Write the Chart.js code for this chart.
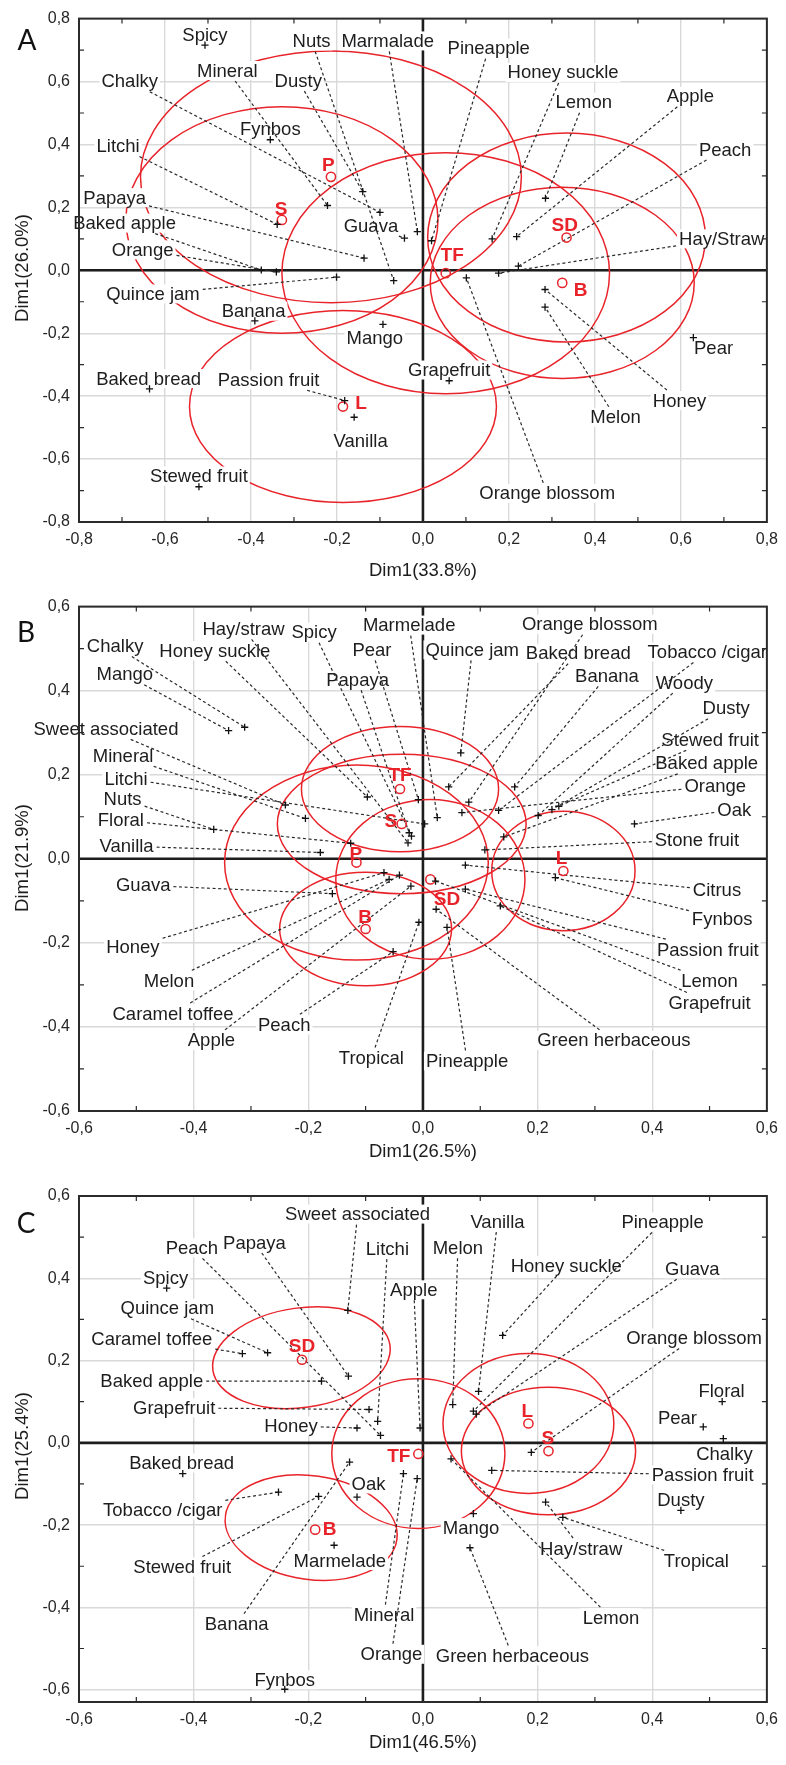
<!DOCTYPE html>
<html>
<head>
<meta charset="utf-8">
<script src="https://cdn.jsdelivr.net/npm/chart.js@4.4.1/dist/chart.umd.min.js"></script>
<style>
  html, body { margin: 0; padding: 0; background: #fff; }
  #wrap { position: relative; width: 786px; height: 1765px; overflow: hidden; }
  canvas { position: absolute; left: 0; }
</style>
</head>
<body>
<div id="wrap">
  <canvas id="panelA" width="786" height="588" style="top:0px"></canvas>
  <canvas id="panelB" width="786" height="588" style="top:588px"></canvas>
  <canvas id="panelC" width="786" height="589" style="top:1176px"></canvas>
</div>
<script>
// ---------- Panel A ----------
const aNames = ['Spicy','Fynbos','Chalky','Mineral','Dusty','Nuts','Marmalade','Pineapple','Honey suckle','Lemon','Apple','Peach','Hay/Straw','Orange blossom','Honey','Melon','Pear','Grapefruit','Mango','Banana','Baked bread','Passion fruit','Vanilla','Stewed fruit','Litchi','Papaya','Baked apple','Orange','Quince jam','Guava'];
const aX = [-0.507,-0.355,-0.100,-0.222,-0.140,-0.068,-0.013,0.020,0.161,0.285,0.218,0.222,0.176,0.101,0.284,0.284,0.629,0.061,-0.093,-0.391,-0.636,-0.182,-0.160,-0.521,-0.339,-0.137,-0.376,-0.341,-0.201,-0.043];
const aY = [0.716,0.415,0.184,0.206,0.250,-0.033,0.123,0.094,0.100,0.229,0.107,0.013,-0.009,-0.024,-0.061,-0.117,-0.214,-0.351,-0.172,-0.161,-0.377,-0.414,-0.467,-0.688,0.146,0.039,0.001,-0.005,-0.022,0.102];
const aLabelX = [-0.507,-0.355,-0.682,-0.455,-0.290,-0.259,-0.082,0.153,0.326,0.374,0.622,0.703,0.695,0.289,0.597,0.448,0.676,0.061,-0.112,-0.394,-0.638,-0.359,-0.145,-0.521,-0.709,-0.717,-0.694,-0.652,-0.628,-0.121];
const aLabelY = [0.749,0.449,0.601,0.635,0.603,0.729,0.729,0.706,0.629,0.534,0.553,0.384,0.100,-0.709,-0.414,-0.467,-0.246,-0.317,-0.215,-0.130,-0.344,-0.348,-0.543,-0.654,0.395,0.231,0.150,0.065,-0.075,0.142];
const aLeader = [0,0,1,1,1,1,1,1,1,1,1,1,1,1,1,1,0,0,0,0,0,1,0,0,1,1,1,1,1,1];
const aSamples = ['P','S','TF','SD','B','L'];
const aSampleX = [-0.214,-0.328,0.053,0.334,0.324,-0.186];
const aSampleY = [0.297,0.160,-0.009,0.104,-0.040,-0.433];
const aSampleLabelX = [-0.220,-0.330,0.068,0.330,0.367,-0.144];
const aSampleLabelY = [0.336,0.197,0.049,0.146,-0.061,-0.420];
const aEllX = [-0.214,-0.328,0.053,0.334,0.324,-0.186];
const aEllY = [0.297,0.160,-0.009,0.104,-0.040,-0.433];
const aEllRx = [0.443,0.363,0.381,0.323,0.307,0.357];
const aEllRy = [0.400,0.360,0.383,0.332,0.304,0.305];
const aEllRot = [0,0,0,0,0,0];
const aTicks = [-0.8,-0.6,-0.4,-0.2,0,0.2,0.4,0.6,0.8];

// ---------- Panel B ----------
const bNames = ['Chalky','Mango','Sweet associated','Mineral','Litchi','Nuts','Floral','Vanilla','Hay/straw','Honey suckle','Spicy','Pear','Papaya','Marmelade','Quince jam','Orange blossom','Baked bread','Tobacco /cigar','Banana','Woody','Dusty','Stewed fruit','Baked apple','Orange','Oak','Stone fruit','Citrus','Fynbos','Passion fruit','Lemon','Grapefruit','Green herbaceous','Pineapple','Tropical','Guava','Honey','Melon','Caramel toffee','Apple','Peach'];
const bX = [-0.311,-0.339,-0.240,-0.205,0.003,-0.365,-0.126,-0.179,-0.026,-0.097,-0.020,-0.008,-0.024,0.025,0.066,0.080,0.045,0.132,0.160,0.201,0.225,0.237,0.141,0.068,0.369,0.108,0.074,0.231,0.074,0.022,0.135,0.023,0.042,-0.007,-0.158,-0.068,-0.059,-0.041,-0.021,-0.052];
const bY = [0.313,0.305,0.128,0.096,0.083,0.070,0.037,0.015,0.038,0.147,0.054,0.141,0.062,0.098,0.252,0.135,0.171,0.115,0.171,0.103,0.117,0.125,0.052,0.110,0.083,0.021,-0.015,-0.045,-0.072,-0.053,-0.112,-0.120,-0.163,-0.151,-0.083,-0.033,-0.049,-0.039,-0.065,-0.221];
const bLabelX = [-0.537,-0.520,-0.553,-0.523,-0.518,-0.524,-0.527,-0.517,-0.313,-0.363,-0.190,-0.089,-0.114,-0.024,0.086,0.291,0.271,0.496,0.321,0.456,0.529,0.501,0.495,0.510,0.543,0.478,0.513,0.522,0.497,0.500,0.500,0.333,0.077,-0.090,-0.488,-0.506,-0.443,-0.436,-0.369,-0.242];
const bLabelY = [0.506,0.439,0.309,0.245,0.191,0.143,0.092,0.030,0.547,0.495,0.539,0.497,0.426,0.556,0.497,0.558,0.489,0.492,0.435,0.419,0.358,0.283,0.227,0.174,0.117,0.046,-0.075,-0.143,-0.216,-0.290,-0.343,-0.432,-0.481,-0.474,-0.063,-0.210,-0.290,-0.368,-0.432,-0.395];
const bLeader = bNames.map(() => 1);
const bSamples = ['TF','S','P','L','SD','B'];
const bSampleX = [-0.040,-0.037,-0.116,0.245,0.013,-0.100];
const bSampleY = [0.166,0.083,-0.009,-0.029,-0.049,-0.167];
const bSampleLabelX = [-0.040,-0.056,-0.117,0.242,0.042,-0.101];
const bSampleLabelY = [0.200,0.090,0.013,0.003,-0.096,-0.139];
const bEllX = [-0.040,-0.037,-0.116,0.245,0.013,-0.100];
const bEllY = [0.166,0.083,-0.009,-0.029,-0.049,-0.167];
const bEllRx = [0.172,0.217,0.230,0.125,0.165,0.150];
const bEllRy = [0.149,0.166,0.232,0.142,0.190,0.135];
const bEllRot = [0,0,0,0,0,0];
const bTicks = [-0.6,-0.4,-0.2,0,0.2,0.4,0.6];

// ---------- Panel C ----------
const cNames = ['Spicy','Peach','Papaya','Sweet associated','Litchi','Apple','Quince jam','Caramel toffee','Baked apple','Grapefruit','Honey','Baked bread','Vanilla','Melon','Honey suckle','Pineapple','Guava','Orange blossom','Floral','Pear','Chalky','Passion fruit','Dusty','Hay/straw','Tropical','Lemon','Mango','Green herbaceous','Mineral','Orange','Oak','Marmelade','Banana','Stewed fruit','Tobacco /cigar','Fynbos'];
const cX = [-0.447,-0.074,-0.130,-0.131,-0.079,-0.005,-0.271,-0.315,-0.177,-0.094,-0.115,-0.419,0.097,0.052,0.139,0.088,0.093,0.189,0.522,0.489,0.524,0.120,0.450,0.214,0.244,0.049,0.088,0.082,-0.034,-0.010,-0.115,-0.155,-0.128,-0.182,-0.252,-0.241];
const cY = [0.376,0.018,0.162,0.322,0.052,0.036,0.219,0.217,0.150,0.081,0.036,-0.075,0.125,0.093,0.261,0.077,0.070,-0.023,0.100,0.039,0.010,-0.067,-0.164,-0.144,-0.181,-0.039,-0.172,-0.255,-0.075,-0.087,-0.132,-0.249,-0.047,-0.130,-0.120,-0.599];
const cLabelX = [-0.449,-0.403,-0.294,-0.114,-0.062,-0.016,-0.446,-0.473,-0.473,-0.434,-0.230,-0.421,0.130,0.061,0.250,0.418,0.470,0.473,0.521,0.444,0.526,0.488,0.450,0.276,0.477,0.328,0.084,0.156,-0.068,-0.055,-0.095,-0.145,-0.325,-0.420,-0.454,-0.241];
const cLabelY = [0.401,0.474,0.487,0.556,0.472,0.372,0.327,0.253,0.150,0.085,0.041,-0.049,0.538,0.474,0.431,0.537,0.423,0.255,0.126,0.061,-0.028,-0.078,-0.138,-0.257,-0.287,-0.425,-0.206,-0.518,-0.419,-0.514,-0.100,-0.286,-0.441,-0.302,-0.163,-0.576];
const cLeader = [0,1,1,1,1,1,1,1,1,1,1,0,1,1,1,1,1,1,0,0,0,1,0,1,1,1,0,1,1,1,0,0,1,1,1,0];
const cSamples = ['SD','L','S','TF','B'];
const cSampleX = [-0.211,0.184,0.219,-0.008,-0.188];
const cSampleY = [0.202,0.047,-0.020,-0.027,-0.211];
const cSampleLabelX = [-0.211,0.182,0.218,-0.042,-0.163];
const cSampleLabelY = [0.235,0.077,0.012,-0.031,-0.210];
const cEllX = [-0.212,0.184,0.219,-0.008,-0.195];
const cEllY = [0.207,0.047,-0.020,-0.026,-0.206];
const cEllRx = [0.156,0.149,0.152,0.151,0.151];
const cEllRy = [0.121,0.170,0.155,0.182,0.126];
const cEllRot = [-8,0,0,0,8];
const cTicks = [-0.6,-0.4,-0.2,0,0.2,0.4,0.6];

// ---------- drawing ----------
const RED = '#e8232a';
const INK = '#1d1d1d';
const FONT = '"Liberation Sans", Arial, sans-serif';
const fmt = v => (Math.abs(v) < 1e-9 ? 0 : v).toFixed(1).replace('.', ',');

function makeBiplotPlugin(P) {
  return {
    id: 'biplot',
    beforeDatasetsDraw(chart) {
      const { ctx, chartArea: a } = chart;
      const sx = chart.scales.x, sy = chart.scales.y;
      ctx.save();
      ctx.beginPath();
      ctx.rect(a.left, a.top, a.right - a.left, a.bottom - a.top);
      ctx.clip();
      // axes through the origin
      const x0 = sx.getPixelForValue(0), y0 = sy.getPixelForValue(0);
      ctx.strokeStyle = INK;
      ctx.lineWidth = 2.6;
      ctx.beginPath();
      ctx.moveTo(x0, a.top); ctx.lineTo(x0, a.bottom);
      ctx.moveTo(a.left, y0); ctx.lineTo(a.right, y0);
      ctx.stroke();
      // confidence ellipses
      ctx.strokeStyle = RED;
      ctx.lineWidth = 1.5;
      P.ellX.forEach((cxv, i) => {
        const cx = sx.getPixelForValue(cxv), cy = sy.getPixelForValue(P.ellY[i]);
        const rx = Math.abs(sx.getPixelForValue(cxv + P.ellRx[i]) - cx);
        const ry = Math.abs(sy.getPixelForValue(P.ellY[i] + P.ellRy[i]) - cy);
        ctx.beginPath();
        ctx.ellipse(cx, cy, rx, ry, P.ellRot[i] * Math.PI / 180, 0, Math.PI * 2);
        ctx.stroke();
      });
      ctx.restore();

      // attribute labels on white boxes, with dashed leaders to their points
      ctx.save();
      ctx.font = '18.5px ' + FONT;
      ctx.textAlign = 'center';
      ctx.textBaseline = 'middle';
      const boxes = P.names.map((n, i) => ({
        cx: sx.getPixelForValue(P.labelX[i]),
        cy: sy.getPixelForValue(P.labelY[i]),
        hw: ctx.measureText(n).width / 2 + 2,
        hh: 9.5
      }));
      ctx.fillStyle = '#fff';
      boxes.forEach(b => ctx.fillRect(b.cx - b.hw, b.cy - b.hh, b.hw * 2, b.hh * 2));
      ctx.fillStyle = INK;
      P.names.forEach((n, i) => ctx.fillText(n, boxes[i].cx, boxes[i].cy + 1));
      ctx.strokeStyle = '#2a2a2a';
      ctx.lineWidth = 1.2;
      ctx.setLineDash([3, 2.6]);
      P.names.forEach((n, i) => {
        if (!P.leader[i]) return;
        const b = boxes[i];
        const px = sx.getPixelForValue(P.x[i]), py = sy.getPixelForValue(P.y[i]);
        const dx = px - b.cx, dy = py - b.cy;
        const tx = dx ? (b.hw + 1) / Math.abs(dx) : Infinity;
        const ty = dy ? (b.hh + 1) / Math.abs(dy) : Infinity;
        const t = Math.min(tx, ty);
        if (t >= 1) return;
        ctx.beginPath();
        ctx.moveTo(b.cx + dx * t, b.cy + dy * t);
        ctx.lineTo(px, py);
        ctx.stroke();
      });
      ctx.restore();
    },
    afterDatasetsDraw(chart) {
      const { ctx, chartArea: a } = chart;
      const sx = chart.scales.x, sy = chart.scales.y;
      ctx.save();
      // sample names
      ctx.font = 'bold 19px ' + FONT;
      ctx.fillStyle = RED;
      ctx.textAlign = 'center';
      ctx.textBaseline = 'middle';
      P.samples.forEach((s, i) => {
        ctx.fillText(s, sx.getPixelForValue(P.sampleLabelX[i]), sy.getPixelForValue(P.sampleLabelY[i]) + 1);
      });
      // frame
      ctx.strokeStyle = '#2b2b2b';
      ctx.lineWidth = 2;
      ctx.strokeRect(a.left, a.top, a.right - a.left, a.bottom - a.top);
      // minor ticks half-way between the labelled ones
      ctx.lineWidth = 1.2;
      ctx.beginPath();
      for (let i = 0; i < P.xTicks.length - 1; i++) {
        const px = sx.getPixelForValue((P.xTicks[i] + P.xTicks[i + 1]) / 2);
        ctx.moveTo(px, a.bottom); ctx.lineTo(px, a.bottom - 5);
        ctx.moveTo(px, a.top); ctx.lineTo(px, a.top + 5);
      }
      for (let i = 0; i < P.yTicks.length - 1; i++) {
        const py = sy.getPixelForValue((P.yTicks[i] + P.yTicks[i + 1]) / 2);
        ctx.moveTo(a.left, py); ctx.lineTo(a.left + 5, py);
        ctx.moveTo(a.right, py); ctx.lineTo(a.right - 5, py);
      }
      ctx.stroke();
      ctx.restore();
    },
    afterDraw(chart) {
      const { ctx, chartArea: a } = chart;
      ctx.save();
      ctx.fillStyle = INK;
      ctx.font = '18.5px ' + FONT;
      ctx.textAlign = 'center';
      ctx.textBaseline = 'middle';
      ctx.fillText(P.xTitle, (a.left + a.right) / 2, P.xTitleY);
      ctx.translate(P.yTitleX, P.yTitleY);
      ctx.rotate(-Math.PI / 2);
      ctx.fillText(P.yTitle, 0, 0);
      ctx.restore();
      ctx.save();
      ctx.fillStyle = '#111';
      ctx.font = '28px Lato, "Open Sans", sans-serif';
      ctx.textAlign = 'center';
      ctx.textBaseline = 'middle';
      ctx.fillText(P.letter, P.letterX, P.letterY);
      ctx.restore();
    }
  };
}

function buildPanel(id, P) {
  const H = P.height, W = 786;
  const axisFont = { family: 'Liberation Sans', size: 16 };
  return new Chart(document.getElementById(id), {
    type: 'scatter',
    data: {
      datasets: [
        {
          data: P.x.map((v, i) => ({ x: v, y: P.y[i] })),
          pointStyle: 'cross', radius: 3.6, borderWidth: 1.3,
          borderColor: '#111', backgroundColor: '#111'
        },
        {
          data: P.sampleX.map((v, i) => ({ x: v, y: P.sampleY[i] })),
          pointStyle: 'circle', radius: 4.6, borderWidth: 1.5,
          borderColor: RED, backgroundColor: 'rgba(255,255,255,0)'
        }
      ]
    },
    options: {
      responsive: false,
      animation: false,
      events: [],
      layout: { padding: { left: 0, top: P.area.top, right: W - P.area.right, bottom: 0 } },
      plugins: { legend: { display: false }, tooltip: { enabled: false } },
      scales: {
        x: {
          type: 'linear', position: 'bottom', min: P.xMin, max: P.xMax,
          afterBuildTicks: s => { s.ticks = P.xTicks.map(v => ({ value: v })); },
          afterFit: s => { s.height = H - P.area.bottom; },
          grid: { color: '#d9d9d9', lineWidth: 1.4, drawTicks: false },
          border: { display: false },
          ticks: { font: axisFont, color: '#262626', padding: 8, autoSkip: false, maxRotation: 0, callback: fmt }
        },
        y: {
          type: 'linear', position: 'left', min: P.yMin, max: P.yMax,
          afterBuildTicks: s => { s.ticks = P.yTicks.map(v => ({ value: v })); },
          afterFit: s => { s.width = P.area.left; },
          grid: { color: '#d9d9d9', lineWidth: 1.4, drawTicks: false },
          border: { display: false },
          ticks: { font: axisFont, color: '#262626', padding: 9, autoSkip: false, callback: fmt }
        }
      }
    },
    plugins: [makeBiplotPlugin(P)]
  });
}

buildPanel('panelA', {
  height: 588, area: { left: 79, right: 772, top: 16, bottom: 522 },
  xMin: -0.8, xMax: 0.8, yMin: -0.8, yMax: 0.8, xTicks: aTicks, yTicks: aTicks,
  names: aNames, x: aX, y: aY, labelX: aLabelX, labelY: aLabelY, leader: aLeader,
  samples: aSamples, sampleX: aSampleX, sampleY: aSampleY, sampleLabelX: aSampleLabelX, sampleLabelY: aSampleLabelY,
  ellX: aEllX, ellY: aEllY, ellRx: aEllRx, ellRy: aEllRy, ellRot: aEllRot,
  xTitle: 'Dim1(33.8%)', yTitle: 'Dim1(26.0%)', xTitleY: 571, yTitleX: 23, yTitleY: 268,
  letter: 'A', letterX: 27, letterY: 41
});
buildPanel('panelB', {
  height: 588, area: { left: 79, right: 768, top: 18, bottom: 523 },
  xMin: -0.6, xMax: 0.6, yMin: -0.6, yMax: 0.6, xTicks: bTicks, yTicks: bTicks,
  names: bNames, x: bX, y: bY, labelX: bLabelX, labelY: bLabelY, leader: bLeader,
  samples: bSamples, sampleX: bSampleX, sampleY: bSampleY, sampleLabelX: bSampleLabelX, sampleLabelY: bSampleLabelY,
  ellX: bEllX, ellY: bEllY, ellRx: bEllRx, ellRy: bEllRy, ellRot: bEllRot,
  xTitle: 'Dim1(26.5%)', yTitle: 'Dim1(21.9%)', xTitleY: 564, yTitleX: 23, yTitleY: 270,
  letter: 'B', letterX: 26, letterY: 45
});
buildPanel('panelC', {
  height: 589, area: { left: 79, right: 772, top: 20, bottom: 526 },
  xMin: -0.6, xMax: 0.6, yMin: -0.63, yMax: 0.6, xTicks: cTicks, yTicks: cTicks,
  names: cNames, x: cX, y: cY, labelX: cLabelX, labelY: cLabelY, leader: cLeader,
  samples: cSamples, sampleX: cSampleX, sampleY: cSampleY, sampleLabelX: cSampleLabelX, sampleLabelY: cSampleLabelY,
  ellX: cEllX, ellY: cEllY, ellRx: cEllRx, ellRy: cEllRy, ellRot: cEllRot,
  xTitle: 'Dim1(46.5%)', yTitle: 'Dim1(25.4%)', xTitleY: 567, yTitleX: 23, yTitleY: 270,
  letter: 'C', letterX: 26, letterY: 48
});
</script>
</body>
</html>
